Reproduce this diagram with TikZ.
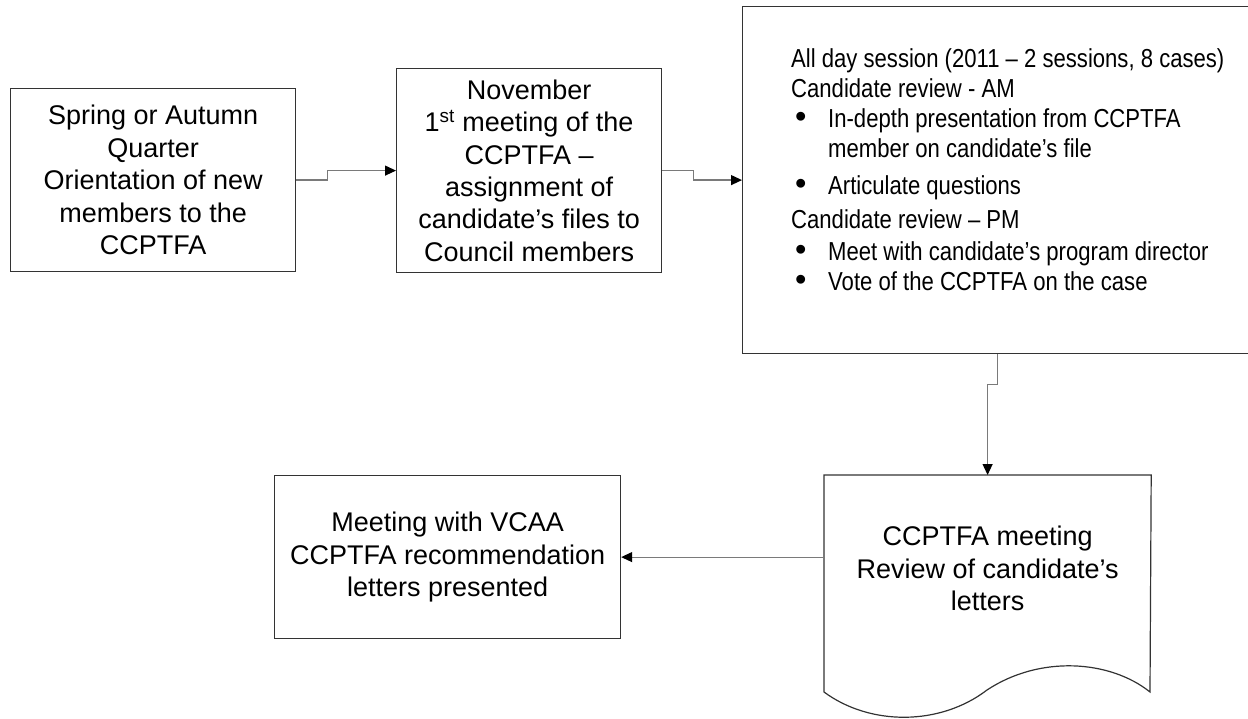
\documentclass[tikz,border=0pt]{standalone}
\usepackage{xcolor}
\usepackage{fontspec}
\setmainfont{Liberation Sans}
\newfontfamily\narrowsans[FakeStretch=0.85]{Liberation Sans}
\newfontfamily\bulletfont{Liberation Sans}
\usetikzlibrary{positioning,arrows.meta}

\definecolor{boxline}{HTML}{333333}
\definecolor{connline}{HTML}{7A7A7A}
\newcommand\itembul{\makebox[37pt][l]{\hspace{4pt}\scalebox{1.25}{\bulletfont\textbullet}}}

\begin{document}
\begin{tikzpicture}[x=1pt,y=-1pt,
    stagebox/.style={draw=boxline, line width=1.2pt, rectangle, inner sep=0pt,
      align=center, anchor=north west, font=\fontsize{27}{32.4}\selectfont},
    listtext/.style={inner sep=0pt, align=left, anchor=north west,
      font=\narrowsans\fontsize{26}{30}\selectfont},
    conn/.style={draw=connline, line width=1.2pt,
      -{Triangle[length=11pt,width=10pt,color=black]}}]
          \clip (0,0) rectangle (1248,719);

          \node[stagebox, minimum width=285pt, minimum height=183pt] (orient) at (10,88)
            {Spring or Autumn\\ Quarter\\ Orientation of new\\ members to the\\ CCPTFA};
          \node[stagebox, minimum width=265pt, minimum height=204pt] (nov) at (396,68)
            {November\\ 1\textsuperscript{st} meeting of the\\ CCPTFA –\\ assignment of\\ candidate’s files to\\ Council members};
          \node[stagebox, minimum width=510pt, minimum height=347pt] (review) at (742,6) {};
          \node[listtext, below right=42pt and 49pt of review.north west] (reviewtext)
            {All day session (2011 – 2 sessions, 8 cases)\\
             Candidate review - AM\\
             \itembul In-depth presentation from CCPTFA\\
             \hspace*{37pt}member on candidate’s file\\[7pt]
             \itembul Articulate questions\\[4pt]
             Candidate review – PM\\[2pt]
             \itembul Meet with candidate’s program director\\
             \itembul Vote of the CCPTFA on the case};

          % document shape, wavy bottom
          \node[stagebox, draw=none, minimum width=326pt, minimum height=186pt] (ccmeet) at (824,475)
            {CCPTFA meeting\\ Review of candidate’s\\ letters};
          \draw[boxline, line width=1.2pt] (ccmeet.north west) -- (ccmeet.north east) -- (1150,692)
            .. controls (1110,660) and (1040,655) .. (987,690)
            .. controls (940,726) and (870,726) .. (824,692) -- cycle;

          \node[stagebox, minimum width=346pt, minimum height=163pt] (vcaa) at (274,475)
            {Meeting with VCAA\\ CCPTFA recommendation\\ letters presented};

          \draw[conn] (orient.east) -- ++(31,0) |- (nov.west);
          \draw[conn] (nov.east) -- ++(31,0) |- (review.west);
          \draw[conn] (review.south) -- ++(0,30) -| (ccmeet.north);
          \draw[conn] (ccmeet.west |- vcaa.east) -- (vcaa.east);

          \end{tikzpicture}
\end{document}
